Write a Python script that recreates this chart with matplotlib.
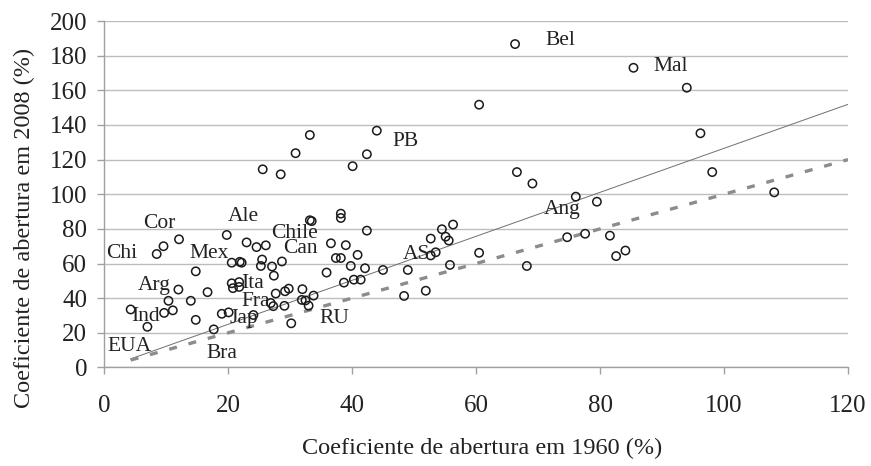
import matplotlib
matplotlib.use("Agg")
import numpy as np
import matplotlib.pyplot as plt

plt.rcParams["font.family"] = ["Liberation Serif", "DejaVu Serif"]

# Abertura comercial: 1960 (x) vs 2008 (y), em %
x1960 = [4.3, 7.0, 8.5, 9.6, 12.1, 9.7, 11.1, 10.4, 12.0, 14.0,
         14.8, 14.8, 16.7, 17.7, 19.0, 20.1, 19.8, 20.6, 21.9, 22.2,
         20.6, 21.8, 20.8, 21.8, 23.0, 24.6, 26.1, 24.1, 25.5, 25.3,
         27.1, 28.7, 27.4, 27.7, 26.9, 27.3, 29.1, 29.2, 29.8, 30.2,
         32.0, 31.9, 32.5, 33.0, 33.8, 33.2, 33.5, 38.2, 38.2, 36.6,
         39.0, 37.4, 38.2, 40.9, 35.9, 39.8, 42.1, 42.4, 38.7, 40.3,
         41.4, 45.0, 49.0, 48.4, 51.9, 52.7, 54.5, 56.3, 55.1, 55.6,
         52.7, 53.5, 55.8, 60.5, 68.2, 66.6, 69.1, 76.1, 79.5, 74.7,
         77.6, 81.6, 82.6, 84.1, 96.2, 98.1, 108.1, 94.0, 85.4, 66.3,
         60.5, 25.6, 28.5, 30.9, 33.2, 40.1, 42.4, 44.0]
y2008 = [33.5, 23.5, 65.5, 70.0, 74.0, 31.5, 33.0, 38.5, 45.0, 38.5,
         55.5, 27.5, 43.5, 22.0, 31.0, 31.8, 76.5, 60.5, 61.0, 60.5,
         48.6, 49.3, 45.8, 46.5, 72.2, 69.5, 70.5, 30.3, 62.3, 58.6,
         58.3, 61.2, 53.0, 42.7, 37.2, 35.4, 35.6, 44.0, 45.5, 25.5,
         45.2, 39.0, 38.7, 35.7, 41.5, 85.0, 84.5, 88.8, 86.3, 71.7,
         70.6, 63.2, 63.2, 65.0, 54.8, 58.6, 57.3, 79.0, 49.0, 50.7,
         50.7, 56.3, 56.3, 41.3, 44.3, 74.4, 79.8, 82.5, 75.5, 73.3,
         64.7, 66.5, 59.2, 66.2, 58.6, 112.8, 106.2, 98.6, 95.7, 75.2,
         77.2, 76.1, 64.3, 67.5, 135.2, 112.8, 101.1, 161.5, 173.0, 186.7,
         151.7, 114.4, 111.5, 123.7, 134.2, 116.2, 123.1, 136.7]

# rótulos dos países
names = ["Bel", "Mal", "PB", "Ang", "AS", "RU", "Chile", "Can", "Ale", "Cor",
         "Chi", "Mex", "Arg", "Ita", "Fra", "Ind", "Jap", "EUA", "Bra"]
name_x = [71.2, 88.6, 46.5, 71.0, 48.2, 34.7, 27.0, 28.9, 20.0, 6.3,
          0.3, 13.8, 5.4, 22.2, 22.2, 4.4, 20.2, 0.5, 16.6]
name_y = [188.5, 173.5, 130.5, 91.0, 65.0, 28.5, 77.6, 68.8, 86.9, 83.1,
          65.7, 65.6, 47.6, 48.6, 38.0, 29.5, 28.4, 12.0, 8.2]

# reta de tendência e reta de 45 graus
fit_intercept = -0.5
fit_slope = 1.27
x_end = 120

fig = plt.figure(figsize=(8.71, 4.66), dpi=100)
ax = fig.add_axes([0.1194, 0.2114, 0.8542, 0.7435])

xs = np.array([min(x1960), x_end])
ax.plot(xs, fit_intercept + fit_slope * xs, color="#6f6f6f", lw=0.7, zorder=2)
ax.plot(xs, xs, color="#8c8c8c", lw=2.4, linestyle=(0, (2.4, 3.6)), zorder=2)

ax.scatter(x1960, y2008, s=36, facecolors="none", edgecolors="#1a1a1a",
           linewidths=1.1, zorder=3)

for n, tx, ty in zip(names, name_x, name_y):
    ax.text(tx, ty, n, fontsize=15.5, ha="left", va="center", color="#222222", zorder=4)

ax.set_xlim(0, 120)
ax.set_ylim(0, 200)
ax.set_xticks(range(0, 121, 20))
ax.set_yticks(range(0, 201, 20))
ax.yaxis.grid(True, color="#bdbdbd", lw=1.0)
ax.set_axisbelow(True)

for s in ["top", "right"]:
    ax.spines[s].set_visible(False)
for s in ["left", "bottom"]:
    ax.spines[s].set_color("#a0a0a0")
    ax.spines[s].set_linewidth(1.0)

ax.tick_params(axis="both", colors="#a0a0a0", labelcolor="#222222",
               labelsize=18, length=5, width=1.0)
ax.tick_params(axis="x", pad=15)
ax.tick_params(axis="y", pad=7)

ax.set_xlabel("Coeficiente de abertura em 1960 (%)", fontsize=17.5, color="#222222")
ax.set_ylabel("Coeficiente de abertura em 2008 (%)", fontsize=17.5, color="#222222")
ax.xaxis.set_label_coords(0.508, -0.2035)
ax.yaxis.set_label_coords(-0.093, 0.403)

fig.savefig("out.png", dpi=100)
